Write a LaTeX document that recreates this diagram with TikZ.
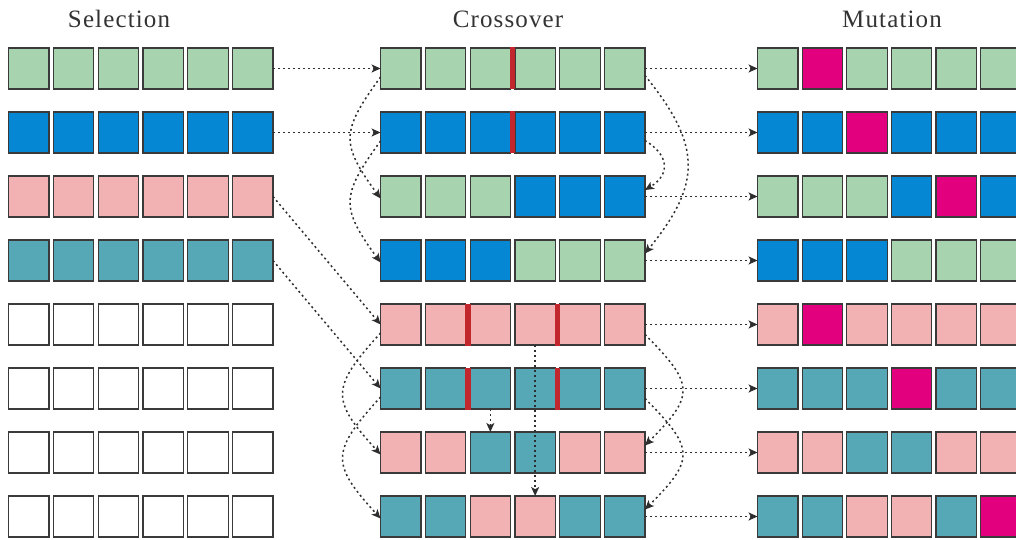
\documentclass[tikz,border=0pt]{standalone}
\usepackage{fontspec}
\setmainfont{Liberation Serif}
\usetikzlibrary{arrows.meta}
\definecolor{cg}{HTML}{A7D3AE}
\definecolor{cb}{HTML}{0587D3}
\definecolor{cp}{HTML}{F2B1B3}
\definecolor{ct}{HTML}{56A8B6}
\definecolor{cm}{HTML}{E2007E}
\definecolor{cw}{HTML}{FFFFFF}
\definecolor{edgecol}{HTML}{3A3A3A}
\definecolor{sepcol}{HTML}{C1272D}
\definecolor{lnk}{HTML}{2E2E2E}
\tikzset{
  cell/.style={draw=edgecol, line width=1.1pt, minimum width=40.4pt, minimum height=41pt, inner sep=0pt, outer sep=0pt},
  conn/.style={draw=lnk, line width=1.5pt, dash pattern=on 2pt off 3pt, -{Stealth[length=9pt,width=8pt,inset=2.2pt]}},
  title/.style={font=\fontsize{25}{28}\selectfont\addfontfeatures{LetterSpace=4.5}, text=black!80, anchor=base, inner sep=0pt},
  seprule/.style={fill=sepcol}
}
% #1 name prefix, #2 x0, #3 pitch, #4 y centre, #5 colours
\newcommand\cellrow[5]{\foreach \cc [count=\i] in {#5} {\node[cell, fill=\cc] (#1-\i) at ({#2+(\i-1)*#3+20.75}, #4) {};}}
\begin{document}
\begin{tikzpicture}[x=1pt, y=-1pt]
\useasboundingbox (0,0) rectangle (1016,540);
\clip (0,0) rectangle (1016,540);
% titles
\node[title] (tsel) at (119,28) {Selection};
\node[title] (tcro) at (508,28) {Crossover};
\node[title] (tmut) at (892,28) {Mutation};
% selection column
\cellrow{s1}{8}{44.8}{68.5}{cg,cg,cg,cg,cg,cg}
\cellrow{s2}{8}{44.8}{132.5}{cb,cb,cb,cb,cb,cb}
\cellrow{s3}{8}{44.8}{196.5}{cp,cp,cp,cp,cp,cp}
\cellrow{s4}{8}{44.8}{260.5}{ct,ct,ct,ct,ct,ct}
\cellrow{s5}{8}{44.8}{324.5}{cw,cw,cw,cw,cw,cw}
\cellrow{s6}{8}{44.8}{388.5}{cw,cw,cw,cw,cw,cw}
\cellrow{s7}{8}{44.8}{452.5}{cw,cw,cw,cw,cw,cw}
\cellrow{s8}{8}{44.8}{516.5}{cw,cw,cw,cw,cw,cw}
% crossover column
\cellrow{c1}{380}{44.8}{68.5}{cg,cg,cg,cg,cg,cg}
\cellrow{c2}{380}{44.8}{132.5}{cb,cb,cb,cb,cb,cb}
\cellrow{c3}{380}{44.8}{196.5}{cg,cg,cg,cb,cb,cb}
\cellrow{c4}{380}{44.8}{260.5}{cb,cb,cb,cg,cg,cg}
\cellrow{c5}{380}{44.8}{324.5}{cp,cp,cp,cp,cp,cp}
\cellrow{c6}{380}{44.8}{388.5}{ct,ct,ct,ct,ct,ct}
\cellrow{c7}{380}{44.8}{452.5}{cp,cp,ct,ct,cp,cp}
\cellrow{c8}{380}{44.8}{516.5}{ct,ct,cp,cp,ct,ct}
% mutation column
\cellrow{m1}{757}{44.6}{68.5}{cg,cm,cg,cg,cg,cg}
\cellrow{m2}{757}{44.6}{132.5}{cb,cb,cm,cb,cb,cb}
\cellrow{m3}{757}{44.6}{196.5}{cg,cg,cg,cb,cm,cb}
\cellrow{m4}{757}{44.6}{260.5}{cb,cb,cb,cg,cg,cg}
\cellrow{m5}{757}{44.6}{324.5}{cp,cm,cp,cp,cp,cp}
\cellrow{m6}{757}{44.6}{388.5}{ct,ct,ct,cm,ct,ct}
\cellrow{m7}{757}{44.6}{452.5}{cp,cp,ct,ct,cp,cp}
\cellrow{m8}{757}{44.6}{516.5}{ct,ct,cp,cp,ct,cm}
% crossover points
\fill[seprule] ([xshift=-0.5pt,yshift=0.5pt]c1-3.north east) rectangle ([xshift=0.5pt,yshift=-0.5pt]c1-4.south west);
\fill[seprule] ([xshift=-0.5pt,yshift=0.5pt]c2-3.north east) rectangle ([xshift=0.5pt,yshift=-0.5pt]c2-4.south west);
\fill[seprule] ([xshift=-0.5pt,yshift=0.5pt]c5-2.north east) rectangle ([xshift=0.5pt,yshift=-0.5pt]c5-3.south west);
\fill[seprule] ([xshift=-0.5pt,yshift=0.5pt]c5-4.north east) rectangle ([xshift=0.5pt,yshift=-0.5pt]c5-5.south west);
\fill[seprule] ([xshift=-0.5pt,yshift=0.5pt]c6-2.north east) rectangle ([xshift=0.5pt,yshift=-0.5pt]c6-3.south west);
\fill[seprule] ([xshift=-0.5pt,yshift=0.5pt]c6-4.north east) rectangle ([xshift=0.5pt,yshift=-0.5pt]c6-5.south west);
% selection -> crossover
\draw[conn] (s1-6.east) -- (c1-1.west);
\draw[conn] (s2-6.east) -- (c2-1.west);
\draw[conn] (s3-6.east) -- (c5-1.west);
\draw[conn] (s4-6.east) -- (c6-1.west);
% crossover -> mutation
\foreach \r in {1,...,8} {\draw[conn] (c\r-6.east) -- (m\r-1.west);}
% left arcs
\draw[conn] ([yshift=-8.5pt]c1-1.west) .. controls +(-40,55) and +(-40,-55) .. ([yshift=-2pt]c3-1.west);
\draw[conn] ([yshift=-8.5pt]c2-1.west) .. controls +(-40,55) and +(-40,-55) .. ([yshift=-2pt]c4-1.west);
\draw[conn] ([yshift=-8.5pt]c5-1.west) .. controls +(-50,55) and +(-50,-55) .. ([yshift=-2pt]c7-1.west);
\draw[conn] ([yshift=-8.5pt]c6-1.west) .. controls +(-50,55) and +(-50,-55) .. ([yshift=-2pt]c8-1.west);
% right arcs
\draw[conn] ([yshift=-7pt]c1-6.east) .. controls +(57,70) and +(57,-70) .. ([yshift=7pt]c4-6.east);
\draw[conn] ([yshift=-8pt]c2-6.east) .. controls +(25,15) and +(25,-15) .. ([yshift=6.5pt]c3-6.east);
\draw[conn] ([yshift=-10pt]c5-6.east) .. controls +(50,50) and +(50,-50) .. ([yshift=7pt]c7-6.east);
\draw[conn] ([yshift=-10pt]c6-6.east) .. controls +(50,50) and +(50,-50) .. ([yshift=7pt]c8-6.east);
% vertical transfers
\draw[conn] (c6-3.south) -- (c7-3.north);
\draw[conn] (c5-4.south) -- (c8-4.north);
\end{tikzpicture}
\end{document}
